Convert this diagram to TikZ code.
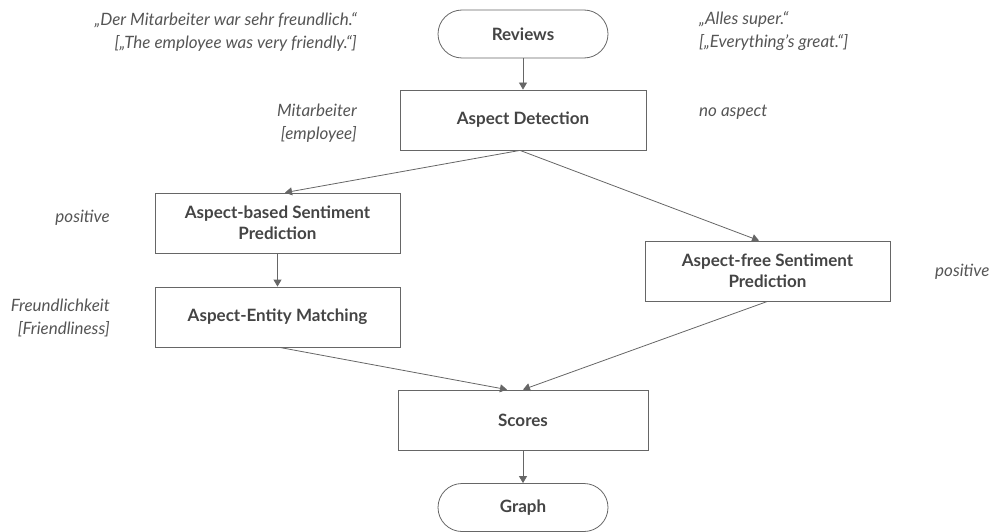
\documentclass[tikz,border=0pt]{standalone}
\usepackage{fontspec}
\setmainfont{Lato}
\usepackage{xcolor}
\usepackage{tikz}
\usetikzlibrary{calc, arrows.meta, positioning}

\definecolor{linegray}{HTML}{666666}
\definecolor{boxtext}{HTML}{444444}
\definecolor{notetext}{HTML}{555555}
\newcommand\boxfont{\fontsize{17}{21}\selectfont\bfseries}
\newcommand\notefont{\fontsize{17}{23}\selectfont\itshape}

\begin{document}
\begin{tikzpicture}[x=1pt, y=-1pt, >={Triangle[length=7pt, width=8pt]},
    box/.style={draw=linegray, line width=0.8pt, text=boxtext, font=\boxfont,
        align=center, minimum width=246pt, minimum height=60pt, inner sep=0pt},
    term/.style={box, rounded corners=24pt, minimum width=170pt, minimum height=48pt},
    note/.style={text=notetext, font=\notefont, inner sep=0pt},
    flow/.style={->, draw=linegray, line width=0.8pt}]
    \useasboundingbox (0,0) rectangle (992,532);

    % Ablauf
    \node[term] (reviews) at (523,34) {Reviews};
    \node[box] (detect) at (523,120) {Aspect Detection};
    \node[box, minimum width=245pt] (absp) at (277.5,223) {Aspect-based Sentiment\\Prediction};
    \node[box, minimum width=245pt] (match) at (277.5,317) {Aspect-Entity Matching};
    \node[box, minimum width=245pt] (afsp) at (767.5,271) {Aspect-free Sentiment\\Prediction};
    \node[box, minimum width=250pt] (scores) at (523,420) {Scores};
    \node[term] (graph) at (523,507.5) {Graph};

    % Pfeile
    \draw[flow] (reviews) -- (detect);
    \draw[flow] ([xshift=-3pt]detect.south) -- ([xshift=7.5pt]absp.north);
    \draw[flow] ([xshift=-3pt]detect.south) -- ([xshift=-8.5pt]afsp.north);
    \draw[flow] (absp) -- (match);
    \draw[flow] ([xshift=2pt]match.south) -- ([xshift=-16pt]scores.north);
    \draw[flow] (afsp.south) -- (scores.north);
    \draw[flow] (scores) -- (graph);

    % Beispiele links und rechts
    \node[note, align=right, anchor=east] (quoteA) at (357,31.5)
        {„Der Mitarbeiter war sehr freundlich.“\\{}[„The employee was very friendly.“]};
    \node[note, align=left, anchor=west] (quoteB) at (699,31.5)
        {„Alles super.“\\{}[„Everything’s great.“]};
    \node[note, align=right, anchor=east] (aspA) at (357,123) {Mitarbeiter\\{}[employee]};
    \node[note, anchor=west] (aspB) at (699,112) {no aspect};
    \node[note, anchor=east] (sentA) at (110,218) {positive};
    \node[note, align=right, anchor=east] (entA) at (110,318) {Freundlichkeit\\{}[Friendliness]};
    \node[note, anchor=west] (sentB) at (935,272) {positive};
\end{tikzpicture}
\end{document}
